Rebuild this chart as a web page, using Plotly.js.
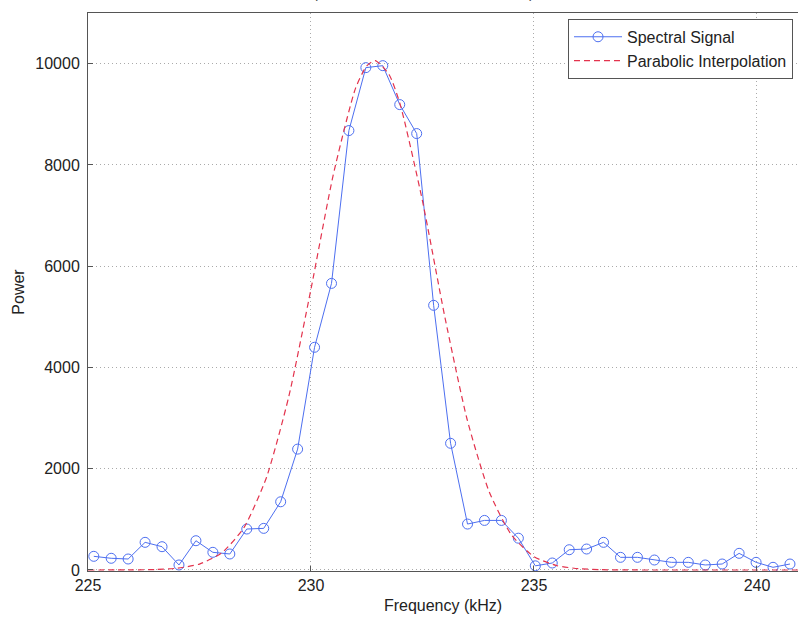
<!DOCTYPE html>
<html>
<head>
<meta charset="utf-8">
<script src="https://cdn.plot.ly/plotly-3.0.1.min.js"></script>
<style>html,body{margin:0;padding:0;background:#fff;}#chart{width:798px;height:619px;}</style>
</head>
<body>
<div id="chart"></div>
<script>
// Spectral signal samples (kHz, power)
const freq = [225.13, 225.52, 225.90, 226.28, 226.66, 227.04, 227.42, 227.80, 228.18, 228.56,
              228.94, 229.32, 229.70, 230.08, 230.46, 230.85, 231.23, 231.61, 231.99, 232.37,
              232.75, 233.13, 233.51, 233.89, 234.27, 234.65, 235.03, 235.41, 235.79, 236.18,
              236.56, 236.94, 237.32, 237.70, 238.08, 238.46, 238.84, 239.22, 239.60, 239.98,
              240.36, 240.74];
const power = [270, 231, 217, 546, 460, 99, 578, 349, 316, 809,
               822, 1347, 2387, 4398, 5660, 8678, 9921, 9960, 9191, 8619,
               5227, 2502, 907, 979, 979, 628, 82, 138, 400, 414,
               546, 250, 250, 197, 151, 151, 99, 118, 329, 151,
               53, 118];
// Parabolic interpolation curve
const interpFreq = [225, 226, 226.5, 227, 227.5, 228, 228.5, 229, 229.5, 230,
                    230.5, 231, 231.25, 231.44, 231.75, 232, 232.5, 233, 233.5, 234,
                    234.5, 235, 235.5, 236, 236.5, 237, 238, 239, 240, 241];
const interpPower = [0, 2, 9, 35, 117, 337, 842, 1823, 3416, 5548,
                     7806, 9516, 9956, 10060, 9786, 9194, 7288, 5004, 2977, 1534,
                     685, 264, 89, 26, 6, 1, 0, 0, 0, 0];
const xTicks = [225, 230, 235, 240];
const yTicks = [0, 2000, 4000, 6000, 8000, 10000];
const seriesNames = ['Spectral Signal', 'Parabolic Interpolation'];

const FONT = 'Liberation Sans, Arial, sans-serif';

const traces = [
  {
    x: freq, y: power, name: seriesNames[0], type: 'scatter', mode: 'lines+markers',
    line: {color: '#4d6ff0', width: 1},
    marker: {symbol: 'circle-open', size: 10, color: '#4d6ff0', line: {width: 1, color: '#4d6ff0'}}
  },
  {
    x: interpFreq, y: interpPower, name: seriesNames[1], type: 'scatter', mode: 'lines',
    line: {color: '#e3334d', width: 1.2, dash: '6px,4px', shape: 'spline', smoothing: 0.6}
  }
];

const layout = {
  width: 798, height: 619,
  margin: {l: 88, r: 0, t: 13, b: 48},
  paper_bgcolor: '#ffffff', plot_bgcolor: '#ffffff',
  font: {family: FONT, size: 16, color: '#222'},
  showlegend: true,
  legend: {
    x: 0.993, xanchor: 'right', y: 0.9895, yanchor: 'top',
    bgcolor: '#ffffff', bordercolor: '#555', borderwidth: 1,
    font: {family: FONT, size: 16, color: '#222'},
    tracegroupgap: 0, itemwidth: 48
  },
  xaxis: {
    range: [225, 240.92], tickvals: xTicks, ticktext: xTicks.map(String),
    ticks: 'inside', ticklen: 5, tickcolor: '#555',
    showline: true, linecolor: '#555', linewidth: 1, mirror: true,
    showgrid: true, gridcolor: '#aaaaaa', griddash: '1px,3px', gridwidth: 1,
    zeroline: false,
    tickfont: {family: FONT, size: 16, color: '#222'},
    title: {text: 'Frequency (kHz)', font: {family: FONT, size: 16, color: '#222'}, standoff: 6}
  },
  yaxis: {
    range: [-20, 11000], tickvals: yTicks, ticktext: yTicks.map(String),
    ticks: 'inside', ticklen: 5, tickcolor: '#555',
    showline: true, linecolor: '#555', linewidth: 1, mirror: false,
    showgrid: true, gridcolor: '#aaaaaa', griddash: '1px,3px', gridwidth: 1,
    zeroline: false,
    tickfont: {family: FONT, size: 16, color: '#222'},
    ticklabelstandoff: 4,
    title: {text: 'Power', font: {family: FONT, size: 16, color: '#222'}, standoff: 6}
  },
  annotations: [{
    text: 'Spectral Peak and Parabolic Interpolation', xref: 'paper', yref: 'paper',
    x: 0.5, y: 1.0, yshift: 10, xanchor: 'center', yanchor: 'bottom',
    showarrow: false, font: {family: FONT, size: 15, color: '#555'}
  }]
};

Plotly.newPlot('chart', traces, layout, {displayModeBar: false, staticPlot: true});
</script>
</body>
</html>
